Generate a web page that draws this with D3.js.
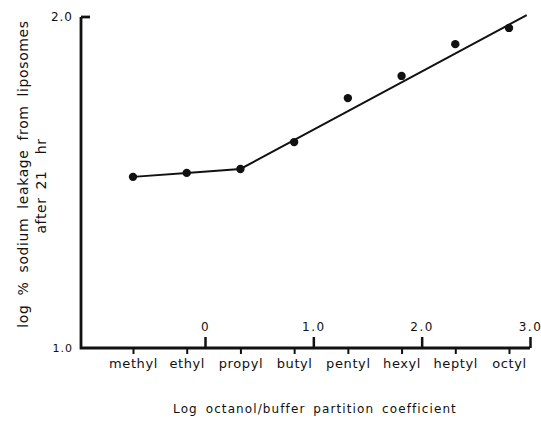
<!DOCTYPE html>
<html>
<head>
<meta charset="utf-8">
<script src="https://cdn.jsdelivr.net/npm/d3@7"></script>
<style>
  body { margin: 0; background: #fff; }
  svg text { font-family: "DejaVu Sans", sans-serif; fill: #111; }
</style>
</head>
<body>
<svg id="chart" width="541" height="427"></svg>
<script>
// alcohols, in order along the x axis
const categories = ["methyl", "ethyl", "propyl", "butyl", "pentyl", "hexyl", "heptyl", "octyl"];
// log % sodium leakage after 21 hr
const leakage = [1.517, 1.529, 1.541, 1.622, 1.755, 1.822, 1.918, 1.967];
// log octanol/buffer partition coefficient ticks
const logTicks = [0, 1, 2, 3];
const yTicks = [1.0, 2.0];
// fitted straight line, from propyl up to its end (log P, log leakage)
const fitEnd = [2.97, 2.006];

const svg = d3.select("#chart");

const x = d3.scalePoint()
    .domain(categories)
    .range([133, 509]);

const xLog = d3.scaleLinear()
    .domain([0, 3])
    .range([205, 530]);

const y = d3.scaleLinear()
    .domain([1, 2])
    .range([348, 17]);

const axisLeftX = 81, axisRightX = xLog(3);

// axis lines
svg.append("path")
    .attr("d", `M${axisLeftX},${y(2)}V${y(1)}H${axisRightX}`)
    .attr("fill", "none")
    .attr("stroke", "#111")
    .attr("stroke-width", 2.8);

// y ticks
svg.append("line")
    .attr("x1", axisLeftX).attr("x2", axisLeftX + 9)
    .attr("y1", y(2)).attr("y2", y(2))
    .attr("stroke", "#111").attr("stroke-width", 2.8);

svg.selectAll(".ylab")
  .data(yTicks)
  .join("text")
    .attr("class", "ylab")
    .attr("x", axisLeftX - 8)
    .attr("y", d => y(d))
    .attr("dy", "0.35em")
    .attr("text-anchor", "end")
    .attr("font-size", d => d == 2 ? 12 : 11)
    .attr("letter-spacing", 1)
    .text(d => d.toFixed(1));

// category ticks, pointing down
const gCat = svg.append("g")
    .attr("transform", `translate(0,${y(1)})`)
    .call(d3.axisBottom(x).tickSize(6).tickPadding(5))
    .call(g => g.select(".domain").remove());
gCat.selectAll("line").attr("stroke", "#111").attr("stroke-width", 2);
gCat.selectAll("text")
    .attr("font-family", "DejaVu Sans")
    .attr("font-size", 13)
    .attr("letter-spacing", 0.6)
    .attr("fill", "#111");

// log partition coefficient ticks, pointing up
const gLog = svg.append("g")
    .attr("transform", `translate(0,${y(1)})`)
    .call(d3.axisTop(xLog).tickValues(logTicks).tickSize(11).tickPadding(6)
      .tickFormat(d => d == 0 ? "0" : d3.format(".1f")(d)))
    .call(g => g.select(".domain").remove());
gLog.selectAll("line").attr("stroke", "#111").attr("stroke-width", 2.5);
gLog.selectAll("text")
    .attr("font-family", "DejaVu Sans")
    .attr("font-size", 12)
    .attr("letter-spacing", 1.5)
    .attr("fill", "#111");

// line: through the first three points, then the fitted straight line
const linePts = [
    [x("methyl"), y(leakage[0])],
    [x("ethyl"), y(leakage[1])],
    [x("propyl"), y(leakage[2])],
    [xLog(fitEnd[0]), y(fitEnd[1])]
];
svg.append("path")
    .attr("d", d3.line()(linePts))
    .attr("fill", "none")
    .attr("stroke", "#111")
    .attr("stroke-width", 2);

// dots
svg.append("g")
  .selectAll("circle")
  .data(categories)
  .join("circle")
    .attr("cx", d => x(d))
    .attr("cy", (d, i) => y(leakage[i]))
    .attr("r", 4.2)
    .attr("fill", "#111");

// axis titles
svg.append("text")
    .attr("x", 315)
    .attr("y", 413)
    .attr("text-anchor", "middle")
    .attr("font-size", 12)
    .attr("letter-spacing", 1.1)
    .attr("word-spacing", 3)
    .text("Log octanol/buffer partition coefficient");

svg.append("text")
    .attr("transform", "translate(28,174) rotate(-90)")
    .attr("text-anchor", "middle")
    .attr("font-size", 14)
    .attr("letter-spacing", 0.6)
    .attr("word-spacing", 4)
    .text("log % sodium leakage from liposomes");

svg.append("text")
    .attr("transform", "translate(46,186) rotate(-90)")
    .attr("text-anchor", "middle")
    .attr("font-size", 14)
    .attr("letter-spacing", 0.6)
    .attr("word-spacing", 3)
    .style("white-space", "pre")
    .text("after 21  hr");
</script>
</body>
</html>
